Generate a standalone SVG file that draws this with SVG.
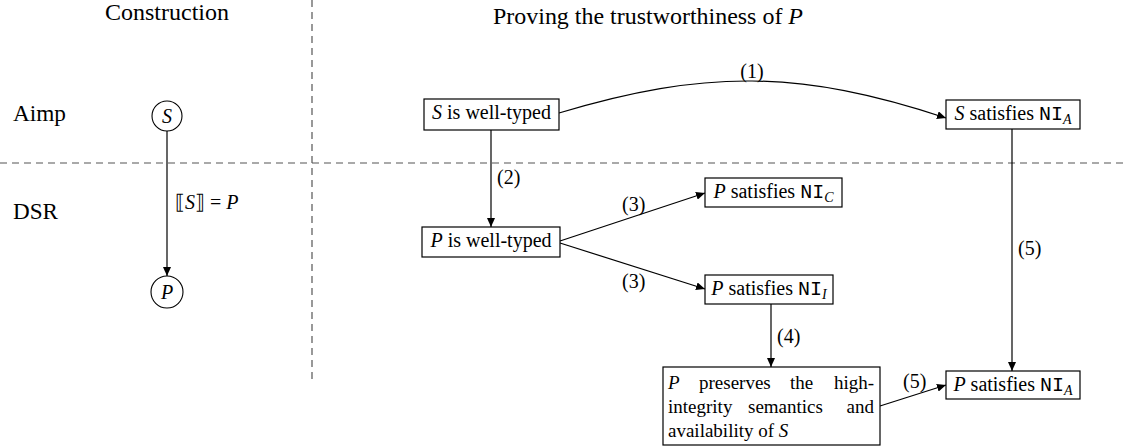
<svg xmlns="http://www.w3.org/2000/svg" width="1128" height="448" viewBox="0 0 1128 448">
  <defs>
    <marker id="arrow" markerUnits="userSpaceOnUse" markerWidth="10" markerHeight="8" refX="9" refY="4" orient="auto">
      <path d="M0,0 L9,4 L0,8 Z" fill="#000"/>
    </marker>
  </defs>
  <style>
    .head { font-size: 23.5px; }
    .lbl { font-size: 20px; }
    .para { font-size: 19px; }
    .it { font-style: italic; }
    .sub { font-size: 14px; font-style: italic; }
    .box { fill: #fff; stroke: #000; stroke-width: 1.2; }
    .circ { fill: none; stroke: #000; stroke-width: 1.1; }
    .edge { fill: none; stroke: #000; stroke-width: 1.2; marker-end: url(#arrow); }
    .sep { fill: none; stroke: #555; stroke-width: 1.2; stroke-dasharray: 7 5; }
  </style>

  <!-- lane separators -->
  <g id="separators">
    <line class="sep" x1="0" y1="163" x2="1128" y2="163"/>
    <line class="sep" x1="312" y1="0" x2="312" y2="384"/>
  </g>

  <!-- connectors -->
  <g id="connectors">
    <line class="edge" x1="167" y1="131" x2="167" y2="276"/>
    <path class="edge" d="M559,113 C704,69.5 800,69.5 946,118"/>
    <line class="edge" x1="491" y1="130" x2="491" y2="227"/>
    <line class="edge" x1="560" y1="241" x2="705" y2="193"/>
    <line class="edge" x1="560" y1="243" x2="705" y2="289"/>
    <line class="edge" x1="771" y1="304" x2="771" y2="367"/>
    <line class="edge" x1="880" y1="406" x2="946" y2="385"/>
    <line class="edge" x1="1012" y1="129" x2="1012" y2="371"/>
  </g>

  <g font-family="'Liberation Serif', 'DejaVu Serif', serif" fill="#000">
    <!-- column and row headings -->
    <g id="headings">
      <text class="head" x="105" y="20" textLength="124" lengthAdjust="spacingAndGlyphs">Construction</text>
      <text class="head" x="493" y="24" textLength="310" lengthAdjust="spacingAndGlyphs">Proving the trustworthiness of <tspan class="it">P</tspan></text>
      <text class="head" x="13" y="121" textLength="53" lengthAdjust="spacingAndGlyphs">Aimp</text>
      <text class="head" x="13" y="219" textLength="45" lengthAdjust="spacingAndGlyphs">DSR</text>
    </g>

    <!-- connector labels -->
    <g id="edge-labels">
      <text class="lbl" x="175" y="209">⟦<tspan class="it">S</tspan>⟧ = <tspan class="it">P</tspan></text>
      <text class="lbl" x="752" y="78" text-anchor="middle">(1)</text>
      <text class="lbl" x="497" y="184">(2)</text>
      <text class="lbl" x="622" y="211">(3)</text>
      <text class="lbl" x="622" y="288">(3)</text>
      <text class="lbl" x="777" y="343">(4)</text>
      <text class="lbl" x="903" y="388">(5)</text>
      <text class="lbl" x="1018" y="255">(5)</text>
    </g>

    <!-- construction nodes -->
    <g id="node-S">
      <circle class="circ" cx="167" cy="116" r="15"/>
      <text class="lbl it" x="167" y="123" text-anchor="middle">S</text>
    </g>
    <g id="node-P">
      <circle class="circ" cx="167" cy="292" r="16"/>
      <text class="lbl it" x="167" y="299" text-anchor="middle">P</text>
    </g>

    <!-- proof nodes -->
    <g id="s-well-typed">
      <rect class="box" x="424" y="99" width="135" height="31"/>
      <text class="lbl" x="491.5" y="119" text-anchor="middle"><tspan class="it">S</tspan> is well-typed</text>
    </g>
    <g id="s-ni-a">
      <rect class="box" x="946" y="100" width="134" height="29"/>
      <text class="lbl" x="1013" y="120" text-anchor="middle"><tspan class="it">S</tspan> satisfies <tspan font-family="'Liberation Mono', monospace">NI</tspan><tspan class="sub" dy="4">A</tspan></text>
    </g>
    <g id="p-well-typed">
      <rect class="box" x="422" y="227" width="138" height="30"/>
      <text class="lbl" x="491" y="247" text-anchor="middle"><tspan class="it">P</tspan> is well-typed</text>
    </g>
    <g id="p-ni-c">
      <rect class="box" x="705" y="178" width="137" height="29"/>
      <text class="lbl" x="773.5" y="198" text-anchor="middle"><tspan class="it">P</tspan> satisfies <tspan font-family="'Liberation Mono', monospace">NI</tspan><tspan class="sub" dy="4">C</tspan></text>
    </g>
    <g id="p-ni-i">
      <rect class="box" x="705" y="275" width="128" height="29"/>
      <text class="lbl" x="769" y="295" text-anchor="middle"><tspan class="it">P</tspan> satisfies <tspan font-family="'Liberation Mono', monospace">NI</tspan><tspan class="sub" dy="4">I</tspan></text>
    </g>
    <!-- justified paragraph: words placed individually -->
    <g id="p-preserves">
      <rect class="box" x="663" y="367" width="217" height="78"/>
      <text class="para it" x="668" y="389">P</text>
      <text class="para" x="699" y="389">preserves</text>
      <text class="para" x="790" y="389">the</text>
      <text class="para" x="874" y="389" text-anchor="end">high-</text>
      <text class="para" x="668" y="413">integrity</text>
      <text class="para" x="748" y="413">semantics</text>
      <text class="para" x="874" y="413" text-anchor="end">and</text>
      <text class="para" x="668" y="437">availability of <tspan class="it">S</tspan></text>
    </g>
    <g id="p-ni-a">
      <rect class="box" x="946" y="371" width="134" height="28"/>
      <text class="lbl" x="1013" y="391" text-anchor="middle"><tspan class="it">P</tspan> satisfies <tspan font-family="'Liberation Mono', monospace">NI</tspan><tspan class="sub" dy="4">A</tspan></text>
    </g>
  </g>
</svg>
